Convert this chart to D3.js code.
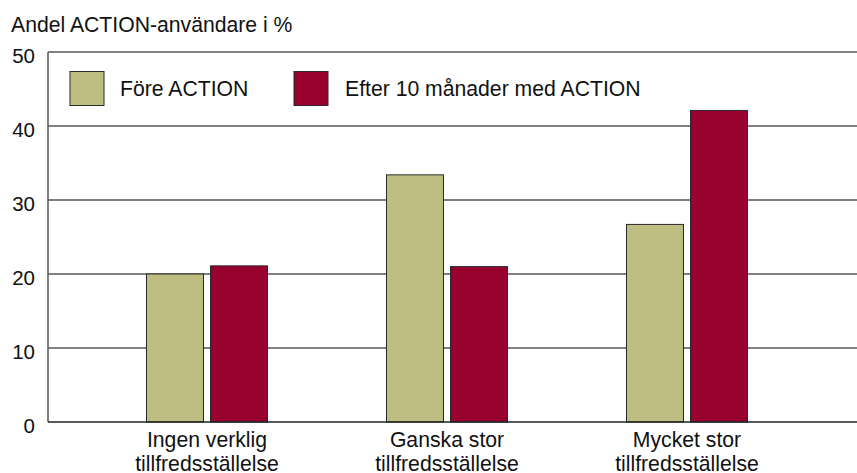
<!DOCTYPE html>
<meta charset="utf-8">
<style>
  body { margin: 0; background: #fff; }
  text { font-family: "Liberation Sans", Arial, sans-serif; fill: #111; }
  .grid line { stroke: #5a5457; stroke-width: 1.5; }
</style>
<body>
<script src="https://d3js.org/d3.v7.min.js"></script>
<script>
// data
var categories = [["Ingen verklig", "tillfredsställelse"],
                  ["Ganska stor", "tillfredsställelse"],
                  ["Mycket stor", "tillfredsställelse"]];
var series = ["Före ACTION", "Efter 10 månader med ACTION"];
var fore = [20.0, 33.4, 26.7];
var efter = [21.1, 21.0, 42.1];
var yTicks = [0, 10, 20, 30, 40, 50];
var title = "Andel ACTION-användare i %";

var colors = ["#bebe82", "#98002e"];
var width = 857, height = 473;

var svg = d3.select("body").append("svg")
    .attr("width", width)
    .attr("height", height);

var y = d3.scaleLinear().domain([0, 50]).range([422, 52]);

var x0 = d3.scaleBand()
    .domain(d3.range(categories.length))
    .range([87, 807]);

var x1 = d3.scaleBand()
    .domain(d3.range(series.length))
    .range([-60.5, 60.5])
    .paddingInner(0.11);

// gridlines
svg.append("g")
    .attr("class", "grid")
    .selectAll("line")
    .data(yTicks.filter(function(d) { return d > 0; }))
    .enter().append("line")
    .attr("x1", 48).attr("x2", width)
    .attr("y1", function(d) { return y(d); })
    .attr("y2", function(d) { return y(d); });

// y tick labels
svg.append("g")
    .selectAll("text")
    .data(yTicks)
    .enter().append("text")
    .attr("x", 35)
    .attr("y", function(d) { return y(d) + 10.5; })
    .attr("text-anchor", "end")
    .style("font-size", "20.5px")
    .text(function(d) { return d; });

// bars
var values = [fore, efter];
var groups = svg.append("g")
    .selectAll("g")
    .data(categories)
    .enter().append("g")
    .attr("transform", function(d, i) { return "translate(" + (x0(i) + x0.bandwidth() / 2) + ",0)"; });

groups.selectAll("rect")
    .data(function(d, i) { return values.map(function(v, s) { return {s: s, v: v[i]}; }); })
    .enter().append("rect")
    .attr("x", function(d) { return x1(d.s); })
    .attr("width", x1.bandwidth())
    .attr("y", function(d) { return y(d.v); })
    .attr("height", function(d) { return y(0) - y(d.v); })
    .style("fill", function(d) { return colors[d.s]; })
    .style("stroke", "#2a2a2a")
    .style("stroke-width", 1);

// category labels
groups.append("text")
    .attr("text-anchor", "middle")
    .style("font-size", "21.2px")
    .selectAll("tspan")
    .data(function(d) { return d; })
    .enter().append("tspan")
    .attr("x", 0)
    .attr("y", function(d, i) { return 447 + i * 23.5; })
    .text(function(d) { return d; });

// axes lines
svg.append("line")
    .attr("x1", 48).attr("x2", 48)
    .attr("y1", y(50)).attr("y2", y(0))
    .style("stroke", "#5a5457").style("stroke-width", 1.5);
svg.append("line")
    .attr("x1", 48).attr("x2", width)
    .attr("y1", y(0)).attr("y2", y(0))
    .style("stroke", "#222").style("stroke-width", 1.5);

// title
svg.append("text")
    .attr("x", 11).attr("y", 31.5)
    .style("font-size", "21.2px")
    .text(title);

// legend
var legendX = [70, 294];
var legend = svg.append("g")
    .selectAll("g")
    .data(series)
    .enter().append("g")
    .attr("transform", function(d, i) { return "translate(" + legendX[i] + ",71.5)"; });
legend.append("rect")
    .attr("width", 34).attr("height", 34)
    .style("fill", function(d, i) { return colors[i]; })
    .style("stroke", "#2a2a2a").style("stroke-width", 1);
legend.append("text")
    .attr("x", function(d, i) { return i === 0 ? 50 : 51; })
    .attr("y", 24.5)
    .style("font-size", "21.2px")
    .text(function(d) { return d; });
</script>
</body>
</html>
